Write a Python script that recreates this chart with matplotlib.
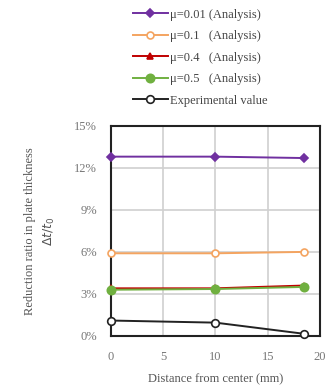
import matplotlib

matplotlib.use("Agg")
import matplotlib.pyplot as plt
from matplotlib.ticker import FuncFormatter

# distance from center (mm)
distance = [0, 10, 18.5]

# reduction ratio in plate thickness (%)
mu_001 = [12.8, 12.8, 12.7]
mu_01 = [5.9, 5.9, 6.0]
mu_04 = [3.4, 3.4, 3.6]
mu_05 = [3.3, 3.35, 3.5]
experiment = [1.1, 0.95, 0.15]

series = [
    ("μ=0.01 (Analysis)", mu_001, "#7030a0", "D", "#7030a0", 4.5),
    ("μ=0.1   (Analysis)", mu_01, "#f4a460", "o", "white", 5),
    ("μ=0.4   (Analysis)", mu_04, "#c00000", "^", "#c00000", 5),
    ("μ=0.5   (Analysis)", mu_05, "#70b040", "o", "#70b040", 6),
    ("Experimental value", experiment, "#222222", "o", "white", 5.5),
]

plt.rcParams["font.family"] = ["Liberation Serif", "DejaVu Serif"]

fig = plt.figure(figsize=(3.3, 3.92), dpi=100)
ax = fig.add_axes([0.336, 0.143, 0.634, 0.536])

handles = []
for label, values, color, marker, face, size in series:
    (h,) = ax.plot(distance, values, color=color, marker=marker, markersize=size,
                   markerfacecolor=face, markeredgecolor=color, markeredgewidth=1.2,
                   linewidth=1.4, label=label, clip_on=False, zorder=3)
    handles.append(h)

ax.set_xlim(0, 20)
ax.set_ylim(0, 15)
ax.set_xticks([0, 5, 10, 15, 20])
ax.set_yticks([0, 3, 6, 9, 12, 15])
ax.yaxis.set_major_formatter(FuncFormatter(lambda v, _: f"{v:.0f}%"))
ax.tick_params(axis="x", length=0, labelsize=9, colors="#777777", pad=11)
ax.tick_params(axis="y", length=0, labelsize=9, colors="#777777", pad=10)
ax.grid(True, color="#d0d0d0", linewidth=1.2)
ax.set_axisbelow(True)
for sp in ax.spines.values():
    sp.set_color("#222222")
    sp.set_linewidth(1.5)

ax.set_xlabel("Distance from center (mm)", fontsize=9, color="#555555", labelpad=7)
ax.set_ylabel("Reduction ratio in plate thickness\n$\\Delta t/t_0$", fontsize=9,
              color="#555555", labelpad=12, linespacing=1.6)

fig.legend(handles=handles, loc="upper left", bbox_to_anchor=(0.375, 1.0),
           frameon=False, fontsize=9, handlelength=2.8, handletextpad=0.2,
           labelspacing=0.76, borderaxespad=0.3, labelcolor="#444444")

fig.savefig("out.png", dpi=100)
